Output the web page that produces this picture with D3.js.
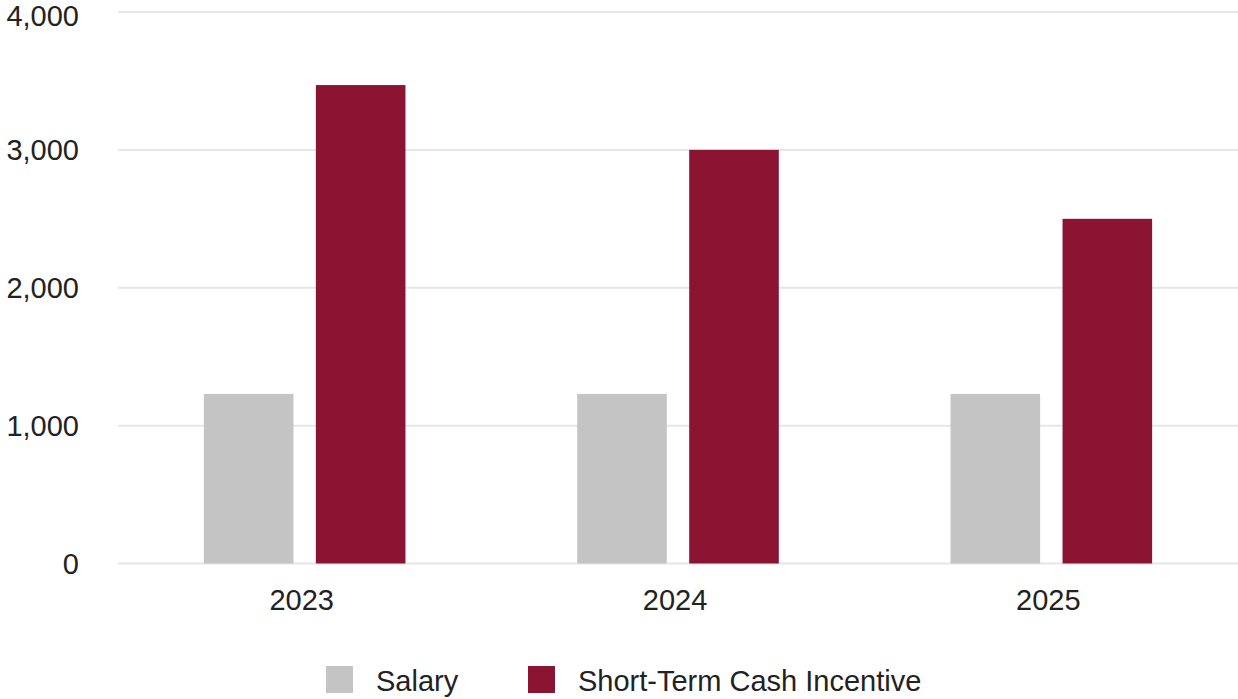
<!DOCTYPE html>
<html>
<head>
<meta charset="utf-8">
<script src="https://cdn.jsdelivr.net/npm/d3@7"></script>
<style>
  html, body { margin: 0; padding: 0; background: #fff; }
  svg { display: block; font-family: "Liberation Sans", Arial, sans-serif; }
</style>
</head>
<body>
<svg id="chart" width="1238" height="699"></svg>
<script>
const years = ["2023", "2024", "2025"];
const seriesNames = ["Salary", "Short-Term Cash Incentive"];
const salary = [1230, 1230, 1230];
const incentive = [3470, 3000, 2500];
const yTicks = [0, 1000, 2000, 3000, 4000];
const colors = ["#c4c4c4", "#8a1432"];

const svg = d3.select("#chart");
const margin = { left: 118, right: 0, top: 12, bottom: 135.5 };
const W = 1238, H = 699;
const FS = 29;

const x0 = d3.scaleBand().domain(years).range([margin.left, W - margin.right]).padding(0);
const bw = x0.bandwidth();
const x1 = d3.scaleBand().domain(seriesNames).range([bw * 0.23, bw * 0.77]).paddingInner(0.2);
const y = d3.scaleLinear().domain([0, 4000]).range([H - margin.bottom, margin.top]);

// grid lines
svg.append("g").selectAll("line").data(yTicks).join("line")
  .attr("x1", margin.left).attr("x2", W - margin.right)
  .attr("y1", d => y(d)).attr("y2", d => y(d))
  .attr("stroke", "#e6e6e6").attr("stroke-width", 2);

// y axis labels
const yAxis = d3.axisLeft(y).tickValues(yTicks).tickFormat(d3.format(",")).tickSize(0).tickPadding(0);
const gy = svg.append("g").attr("transform", "translate(79,0)").call(yAxis);
gy.select(".domain").remove();
gy.selectAll("text").attr("font-size", FS).attr("fill", "#222")
  .attr("font-family", "Liberation Sans, Arial, sans-serif")
  .attr("dy", d => d === 4000 ? "0.45em" : "0.34em");

// x axis labels
const xAxis = d3.axisBottom(x0).tickSize(0).tickPadding(0);
const gx = svg.append("g").attr("transform", `translate(0,${y(0) + 26})`).call(xAxis);
gx.select(".domain").remove();
gx.selectAll("text").attr("font-size", FS).attr("fill", "#222")
  .attr("font-family", "Liberation Sans, Arial, sans-serif")
  .attr("dx", -3);

// bars
const data = years.map((yr, i) => ({ year: yr, values: [salary[i], incentive[i]] }));
const groups = svg.append("g").selectAll("g").data(data).join("g")
  .attr("transform", d => `translate(${x0(d.year)},0)`);
groups.selectAll("rect").data(d => d.values.map((v, j) => ({ name: seriesNames[j], v, j })))
  .join("rect")
  .attr("x", d => x1(d.name)).attr("width", x1.bandwidth())
  .attr("y", d => y(d.v)).attr("height", d => y(0) - y(d.v))
  .attr("fill", d => colors[d.j]);

// legend
const legendItems = [
  { name: seriesNames[0], color: colors[0], x: 326 },
  { name: seriesNames[1], color: colors[1], x: 528 }
];
const lg = svg.append("g");
legendItems.forEach(it => {
  lg.append("rect").attr("x", it.x).attr("y", 666).attr("width", 27).attr("height", 27).attr("fill", it.color);
  lg.append("text").attr("x", it.x + 50).attr("y", 691).attr("font-size", FS).attr("fill", "#222").text(it.name);
});
</script>
</body>
</html>
